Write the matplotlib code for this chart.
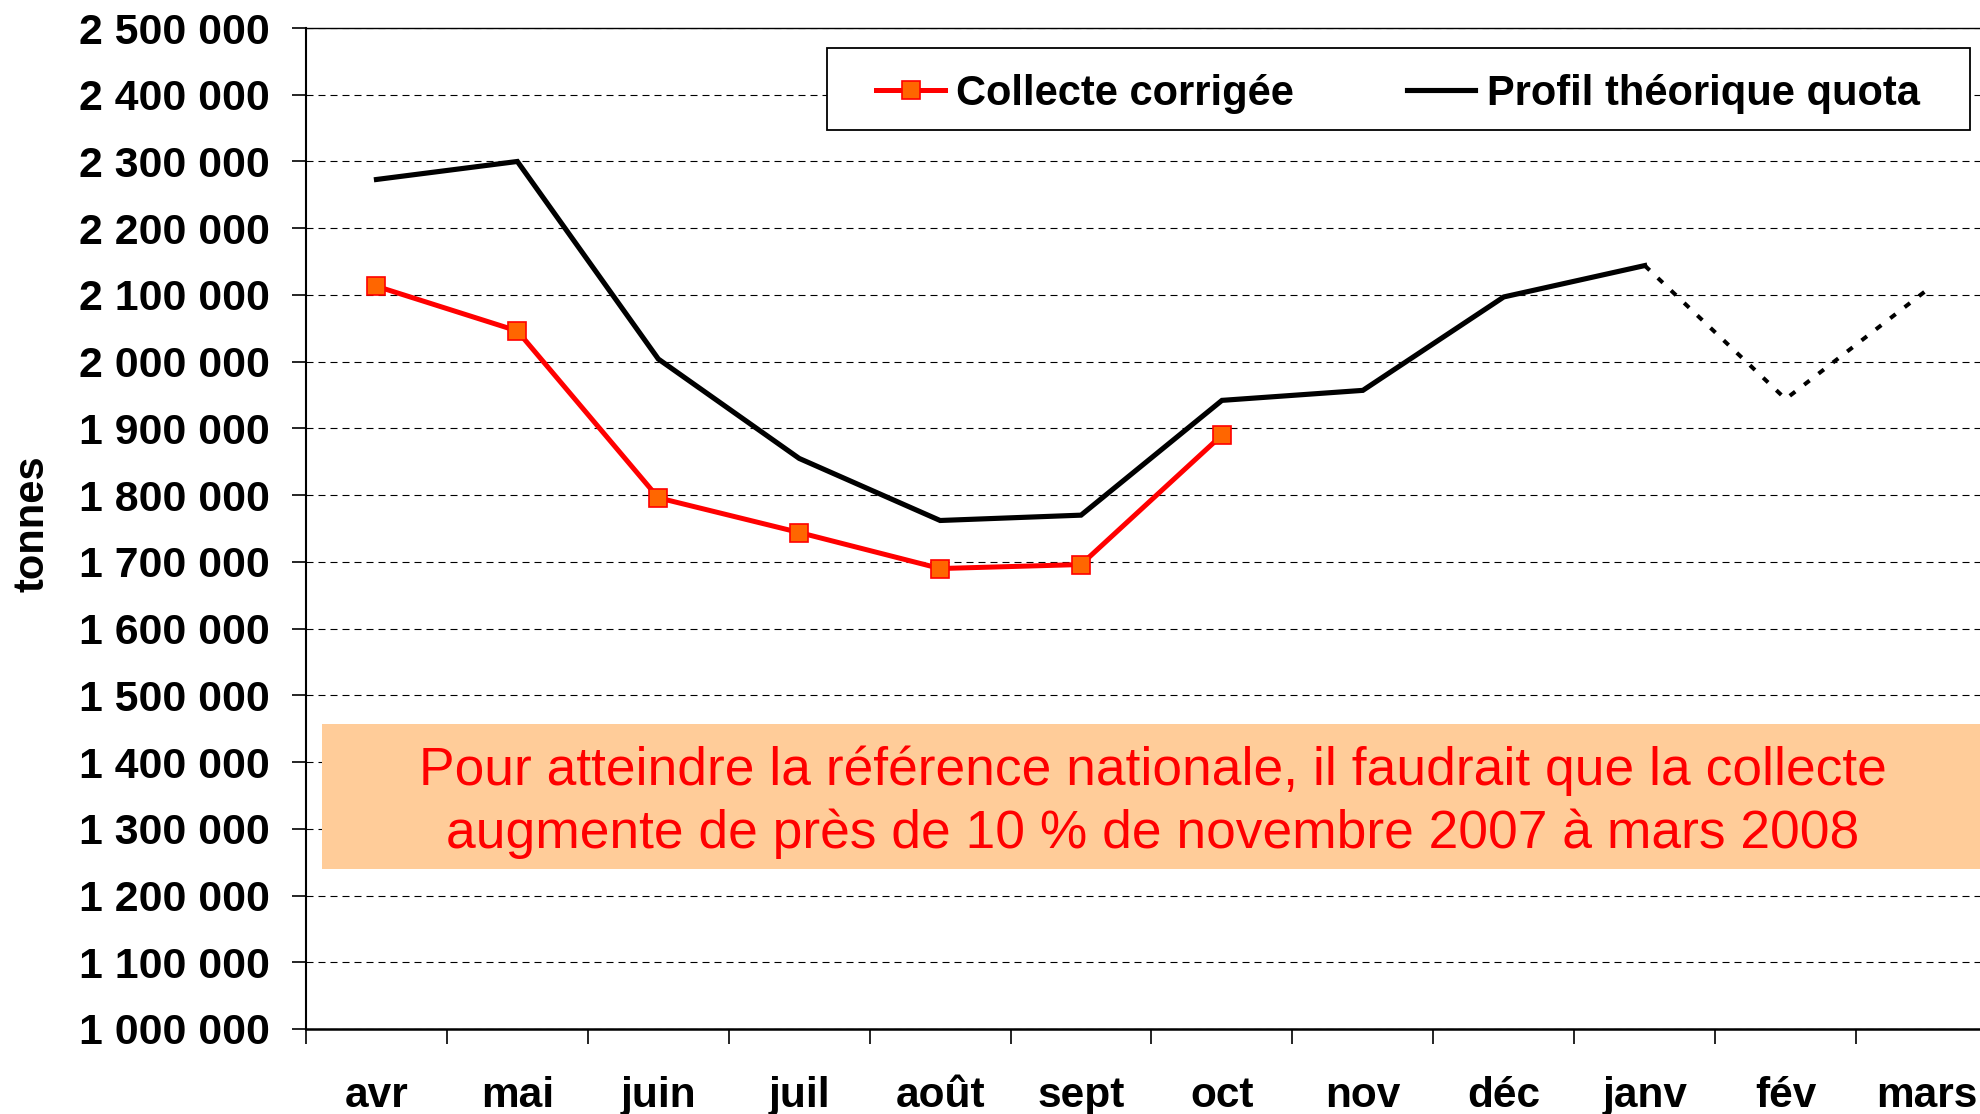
import matplotlib
matplotlib.use('Agg')
import matplotlib.pyplot as plt
from matplotlib.ticker import FuncFormatter, MultipleLocator
from matplotlib.patches import Rectangle
from matplotlib.lines import Line2D

plt.rcParams['font.family'] = ['Liberation Sans', 'DejaVu Sans']

# months (campagne avril 2007 - mars 2008)
mois = ['avr', 'mai', 'juin', 'juil', 'août', 'sept', 'oct', 'nov', 'déc', 'janv', 'fév', 'mars']

# collecte corrigée (tonnes), avr -> oct
collecte = [2113000, 2046000, 1796000, 1744000, 1690000, 1696000, 1890000]

# profil théorique quota (tonnes), solid avr -> janv, dotted janv -> mars
profil = [2273000, 2300000, 2004000, 1855000, 1762000, 1770000, 1942000, 1957000, 2097000, 2144000]
profil_fin = [2144000, 1944000, 2107000]

message = ['Pour atteindre la référence nationale, il faudrait que la collecte',
           'augmente de près de 10 % de novembre 2007 à mars 2008']

fig = plt.figure(figsize=(19.8, 11.14), dpi=100)
ax = fig.add_axes([306/1980, 1-1029/1114, 1691/1980, 1001/1114])

x_c = list(range(len(collecte)))
x_p = list(range(len(profil)))
x_f = list(range(len(profil) - 1, len(profil) - 1 + len(profil_fin)))

ax.plot(x_p, profil, color='black', lw=3.7, zorder=4, solid_joinstyle='miter')
ax.plot(x_f, profil_fin, color='black', lw=2.9, ls=(0, (1.7, 2.8)), zorder=4)
ax.plot(x_c, collecte, color='#FF0000', lw=3.6, marker='s', ms=13,
        mfc='#FF6600', mec='#FF0000', mew=1.2, zorder=5)

ax.set_xlim(-0.5, 11.5)
ax.set_ylim(1000000, 2500000)

# grid
ax.yaxis.set_major_locator(MultipleLocator(100000))
ax.grid(axis='y', color='black', lw=0.8, ls=(0, (6.3, 4.5)), zorder=1)
ax.set_axisbelow(True)

ax.yaxis.set_major_formatter(FuncFormatter(lambda v, p: f'{v:,.0f}'.replace(',', ' ')))
ax.tick_params(axis='y', direction='out', length=10, width=1.2, pad=16,
               labelsize=30.8)
for t in ax.get_yticklabels():
    t.set_fontweight('bold')

ax.set_xticks(range(len(mois)))
ax.set_xticklabels(mois, fontsize=30.5, fontweight='bold')
ax.set_xticks([i - 0.5 for i in range(len(mois) + 1)], minor=True)
ax.tick_params(axis='x', which='major', length=0, pad=34)
ax.tick_params(axis='x', which='minor', direction='out', length=11, width=1.2)

ax.spines['right'].set_visible(False)
ax.spines['top'].set_linewidth(1.0)
ax.spines['left'].set_linewidth(1.5)
ax.spines['bottom'].set_linewidth(1.8)

ax.set_ylabel('tonnes', fontsize=30, fontweight='bold')
ax.yaxis.set_label_coords(-0.15, 0.505)

# message box
ax.add_patch(Rectangle((0.0095, 0.1598), 0.9905, 0.1449, transform=ax.transAxes,
                       facecolor='#FFCC99', edgecolor='none', zorder=3, clip_on=False))
ax.text(0.5009, 0.2265, '\n'.join(message), transform=ax.transAxes,
        ha='center', va='center', color='#FF0000', fontsize=38.4, linespacing=1.31, zorder=6)

# legend
handles = [Line2D([], [], color='#FF0000', lw=3.6, marker='s', ms=13,
                  mfc='#FF6600', mec='#FF0000', mew=1.2),
           Line2D([], [], color='black', lw=3.7)]
leg = fig.legend(handles, ['Collecte corrigée', 'Profil théorique quota'],
                 loc='center', bbox_to_anchor=(1398/1980, 1-94/1114), ncol=2,
                 frameon=False, borderpad=0, handlelength=1.65, handletextpad=0.27,
                 columnspacing=2.7, numpoints=1, prop={'weight': 'bold', 'size': 30})
fig.add_artist(Rectangle((827/1980, 1-130/1114), 1143/1980, 82/1114,
                         transform=fig.transFigure, facecolor='white',
                         edgecolor='black', lw=1.3, zorder=2))
leg.set_zorder(10)

fig.savefig('out.png', dpi=100)
